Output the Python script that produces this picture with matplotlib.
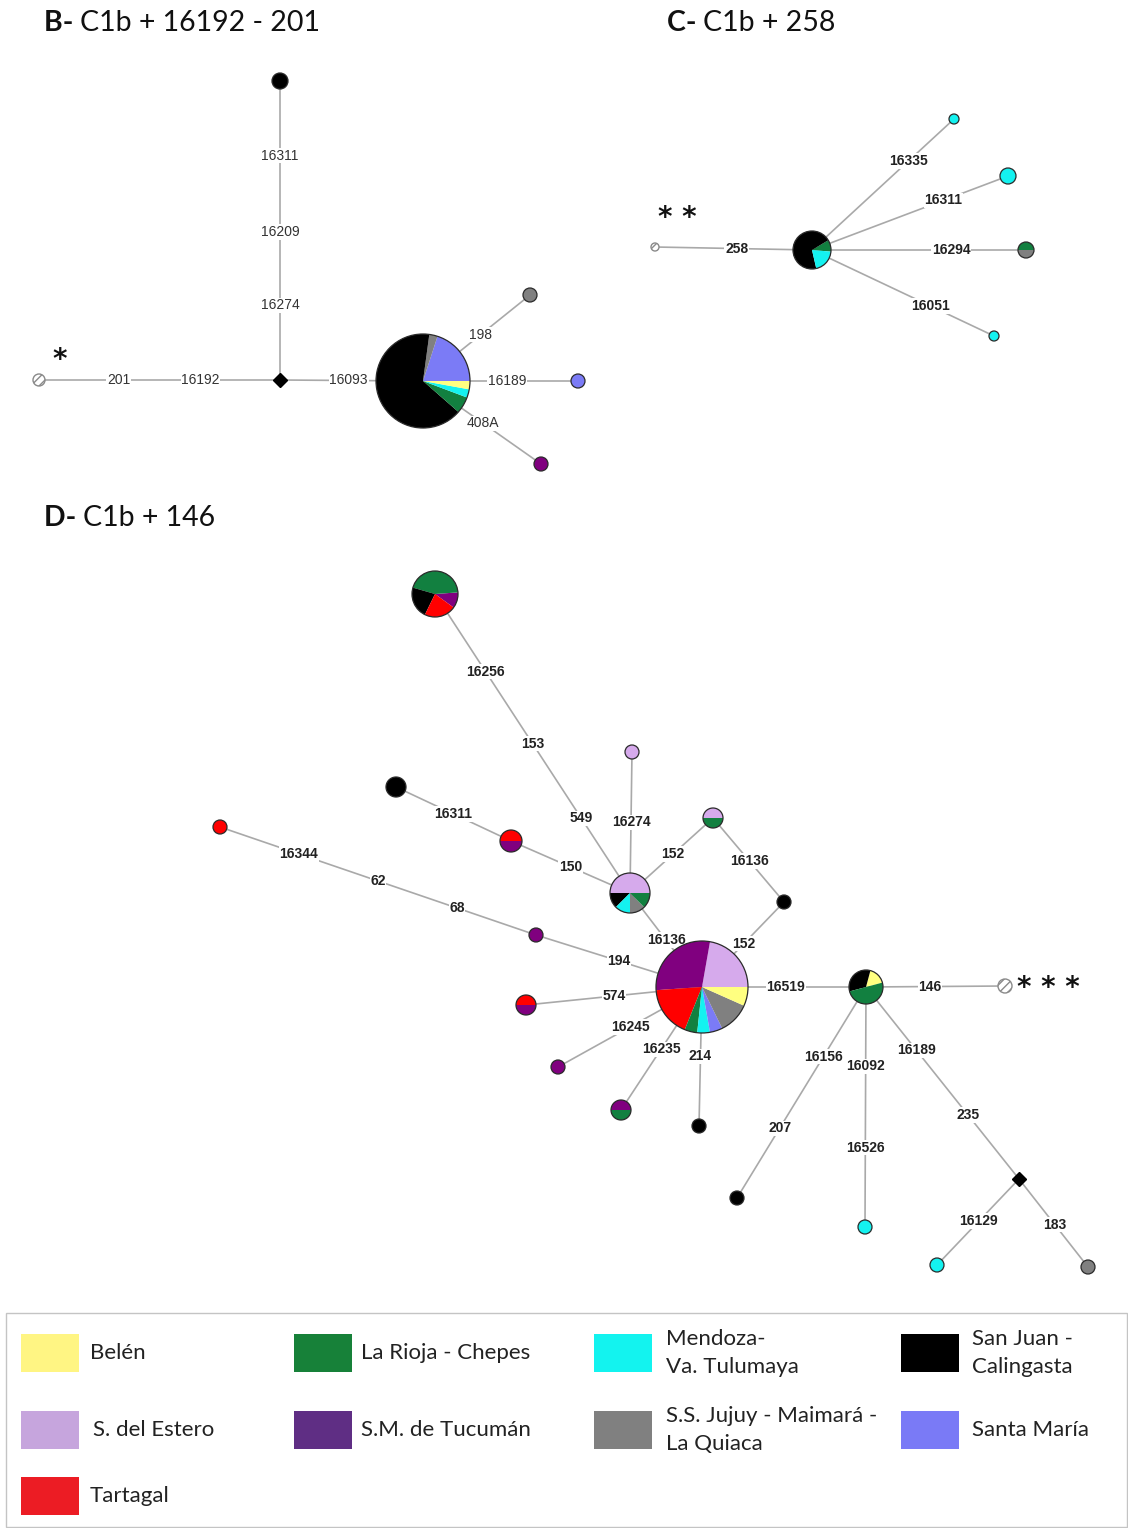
"""Median-joining networks of haplogroup C1b sub-lineages (panels B, C, D)."""

import matplotlib

matplotlib.use("Agg")

import matplotlib.pyplot as plt
from matplotlib.patches import Circle, Rectangle, Wedge

# Region keys, legend text and colours.
REGION_KEYS = ["BEL", "RIO", "MEN", "SJU", "SDE", "TUC", "JUJ", "SMA", "TAR"]
REGION_NAMES = ["Belén", "La Rioja - Chepes", "Mendoza-\nVa. Tulumaya",
                "San Juan -\nCalingasta", "S. del Estero", "S.M. de Tucumán",
                "S.S. Jujuy - Maimará -\nLa Quiaca", "Santa María", "Tartagal"]
NODE_COLORS = ["#ffff80", "#128040", "#14f2f0", "#000000", "#d6aaec",
               "#80007f", "#808080", "#7b7bf6", "#ff0000"]
LEGEND_COLORS = ["#fff583", "#178139", "#13f3ef", "#000000", "#c6a5dd",
                 "#5f2e84", "#808080", "#7a7af6", "#ec1c24"]
COLOR = dict(zip(REGION_KEYS, NODE_COLORS))

# ---- panel B: C1b + 16192 - 201 -------------------------------------------
B_NODE_X = [39, 280, 280, 423, 530, 578, 541]
B_NODE_Y = [380, 380, 81, 381, 295, 381, 464]
B_NODE_R = [6, 0, 8, 47, 7, 7, 7]
B_NODE_PARTS = ["ref", "median", [("SJU", 1)],
                [("SMA", 7), ("JUJ", 1), ("SJU", 23), ("RIO", 2), ("MEN", 1), ("BEL", 1)],
                [("JUJ", 1)], [("SMA", 1)], [("TUC", 1)]]
B_NODE_START = [0, 0, 0, 0, 0, 0, 0]
B_EDGES = [(0, 1), (1, 2), (1, 3), (3, 4), (3, 5), (3, 6)]
B_EDGE_LABELS = [[("201", 0.33), ("16192", 0.67)],
                 [("16274", 0.25), ("16209", 0.495), ("16311", 0.75)],
                 [("16093", 0.48)], [("198", 0.54)], [("16189", 0.54)], [("408A", 0.51)]]

# ---- panel C: C1b + 258 ----------------------------------------------------
C_NODE_X = [655, 812, 954, 1008, 1026, 994]
C_NODE_Y = [247, 250, 119, 176, 250, 336]
C_NODE_R = [4, 19, 5, 8, 8, 5]
C_NODE_PARTS = ["ref", [("RIO", 1), ("SJU", 7), ("MEN", 2)], [("MEN", 1)],
                [("MEN", 1)], [("RIO", 1), ("JUJ", 1)], [("MEN", 1)]]
C_NODE_START = [0, -5, 0, 0, 0, 0]
C_EDGES = [(0, 1), (1, 2), (1, 3), (1, 4), (1, 5)]
C_EDGE_LABELS = [[("258", 0.52)], [("16335", 0.68)], [("16311", 0.67)],
                 [("16294", 0.65)], [("16051", 0.65)]]

# ---- panel D: C1b + 146 ----------------------------------------------------
D_NODE_X = [702, 630, 784, 866, 536, 220, 526, 558, 621, 699, 632,
            713, 511, 396, 435, 1005, 737, 865, 1019, 937, 1088]
D_NODE_Y = [987, 893, 902, 987, 935, 827, 1005, 1067, 1110, 1126, 752,
            818, 841, 787, 594, 986, 1198, 1227, 1179, 1265, 1267]
D_NODE_R = [46, 20, 7, 17, 7, 7, 10, 7, 10, 7, 7,
            10, 11, 10, 23, 7, 7, 7, 0, 7, 7]
D_NODE_PARTS = [
    [("SDE", 10), ("TUC", 13), ("TAR", 8), ("RIO", 2), ("MEN", 2), ("SMA", 2),
     ("JUJ", 5), ("BEL", 3)],
    [("SDE", 4), ("SJU", 1), ("MEN", 1), ("JUJ", 1), ("RIO", 1)],
    [("SJU", 1)],
    [("BEL", 1), ("SJU", 2), ("RIO", 3)],
    [("TUC", 1)], [("TAR", 1)], [("TAR", 1), ("TUC", 1)], [("TUC", 1)],
    [("TUC", 1), ("RIO", 1)], [("SJU", 1)], [("SDE", 1)],
    [("SDE", 1), ("RIO", 1)], [("TAR", 1), ("TUC", 1)], [("SJU", 1)],
    [("TUC", 1), ("RIO", 4), ("SJU", 2), ("TAR", 2)],
    "ref", [("SJU", 1)], [("MEN", 1)], "median", [("MEN", 1)], [("JUJ", 1)]]
D_NODE_START = [0, 0, 0, 15, 0, 0, 0, 0, 0, 0, 0,
                0, 0, 0, -36, 0, 0, 0, 0, 0, 0]
D_EDGES = [(0, 1), (0, 2), (0, 3), (0, 4), (4, 5), (0, 6), (0, 7), (0, 8),
           (0, 9), (1, 10), (1, 11), (11, 2), (1, 12), (12, 13), (1, 14),
           (3, 15), (3, 16), (3, 17), (3, 18), (18, 19), (18, 20)]
D_EDGE_LABELS = [[("16136", 0.5)], [("152", 0.51)], [("16519", 0.51)], [("194", 0.5)],
                 [("68", 0.25), ("62", 0.5), ("16344", 0.75)], [("574", 0.5)],
                 [("16245", 0.5)], [("16235", 0.506)], [("214", 0.5)],
                 [("16274", 0.5)], [("152", 0.52)], [("16136", 0.51)], [("150", 0.5)],
                 [("16311", 0.5)], [("549", 0.25), ("153", 0.5), ("16256", 0.74)],
                 [("146", 0.46)], [("16156", 0.33), ("207", 0.67)],
                 [("16092", 0.33), ("16526", 0.67)], [("16189", 0.33), ("235", 0.667)],
                 [("16129", 0.49)], [("183", 0.52)]]

TITLE_FONT = "Lato"
LABEL_FONT = "Liberation Sans"
EDGE_COLOR = "#a9a9a9"


def draw_node(ax, x, y, r, parts, start):
    """Pie node, median vector (diamond) or hatched reference node."""
    if parts == "median":
        ax.plot([x], [y], marker="D", markersize=7, color="black", zorder=4)
        return
    if parts == "ref":
        ax.add_patch(Circle((x, y), r, facecolor="white", edgecolor="#8a8a8a",
                            hatch="////", lw=1.0, zorder=4))
        return
    total = sum(n for _, n in parts)
    angle = start
    for key, n in parts:
        sweep = 360.0 * n / total
        # y axis is inverted, so visual ccw angles become negative data angles
        ax.add_patch(Wedge((x, y), r, -(angle + sweep), -angle,
                           facecolor=COLOR[key], edgecolor="none", zorder=4))
        angle += sweep
    ax.add_patch(Circle((x, y), r, fill=False, edgecolor="#2a2a2a",
                        lw=0.9, zorder=5))


def draw_network(ax, xs, ys, rs, parts, starts, edges, labels, bold):
    for (i, j), labs in zip(edges, labels):
        ax.plot([xs[i], xs[j]], [ys[i], ys[j]], color=EDGE_COLOR, lw=1.2, zorder=1)
        for text, t in labs:
            lx = xs[i] + t * (xs[j] - xs[i])
            ly = ys[i] + t * (ys[j] - ys[i])
            ax.text(lx, ly, text, ha="center", va="center", family=LABEL_FONT,
                    fontsize=10, fontweight="bold" if bold else "normal",
                    color="#222222" if bold else "#333333", zorder=3,
                    bbox=dict(boxstyle="square,pad=0.05", fc="white", ec="none"))
    for x, y, r, p, s in zip(xs, ys, rs, parts, starts):
        draw_node(ax, x, y, r, p, s)


def panel_title(ax, x, y, letter, rest):
    t1 = ax.text(x, y, letter + "- ", family=TITLE_FONT, fontsize=20.5,
                 fontweight="bold", va="center", ha="left", color="#111111")
    ax.annotate(rest, xy=(1, 0), xycoords=t1, va="bottom", ha="left",
                family=TITLE_FONT, fontsize=20.5, color="#111111")


def draw_legend(ax):
    ax.add_patch(Rectangle((6, 1313), 1121, 214, fill=False, edgecolor="#c4c4c4", lw=1.0))
    col_patch = [21, 294, 594, 901]
    col_text = [90, 361, 666, 972]
    row_y = [1353, 1430, 1496]
    for k, (name, color) in enumerate(zip(REGION_NAMES, LEGEND_COLORS)):
        row, col = divmod(k, 4)
        y = row_y[row]
        ax.add_patch(Rectangle((col_patch[col], y - 19), 58, 38, facecolor=color,
                               edgecolor="none"))
        ax.text(col_text[col] + (3 if name.startswith("S. del") else 0), y, name,
                family=TITLE_FONT, fontsize=16, va="center", ha="left",
                color="#222222", linespacing=1.45)


def run():
    fig = plt.figure(figsize=(11.28, 15.28), dpi=100)
    ax = fig.add_axes([0, 0, 1, 1])
    ax.set_xlim(0, 1128)
    ax.set_ylim(1528, 0)
    ax.set_aspect("equal")
    ax.axis("off")
    plt.rcParams["hatch.linewidth"] = 1.0

    panel_title(ax, 44, 23, "B", "C1b + 16192 - 201")
    panel_title(ax, 667, 23, "C", "C1b + 258")
    panel_title(ax, 44, 518, "D", "C1b + 146")

    draw_network(ax, B_NODE_X, B_NODE_Y, B_NODE_R, B_NODE_PARTS, B_NODE_START,
                 B_EDGES, B_EDGE_LABELS, bold=False)
    draw_network(ax, C_NODE_X, C_NODE_Y, C_NODE_R, C_NODE_PARTS, C_NODE_START,
                 C_EDGES, C_EDGE_LABELS, bold=True)
    draw_network(ax, D_NODE_X, D_NODE_Y, D_NODE_R, D_NODE_PARTS, D_NODE_START,
                 D_EDGES, D_EDGE_LABELS, bold=True)

    # asterisks marking the reference sequences
    for x, y, stars in [(60, 360, "*"), (677, 218, "* *"), (1048, 988, "* * *")]:
        ax.text(x, y, stars, ha="center", va="center", fontsize=20,
                fontweight="bold", family="DejaVu Sans", color="#111111")

    draw_legend(ax)
    fig.savefig("out.png", dpi=100)
    plt.close(fig)


if __name__ == "__main__":
    run()
